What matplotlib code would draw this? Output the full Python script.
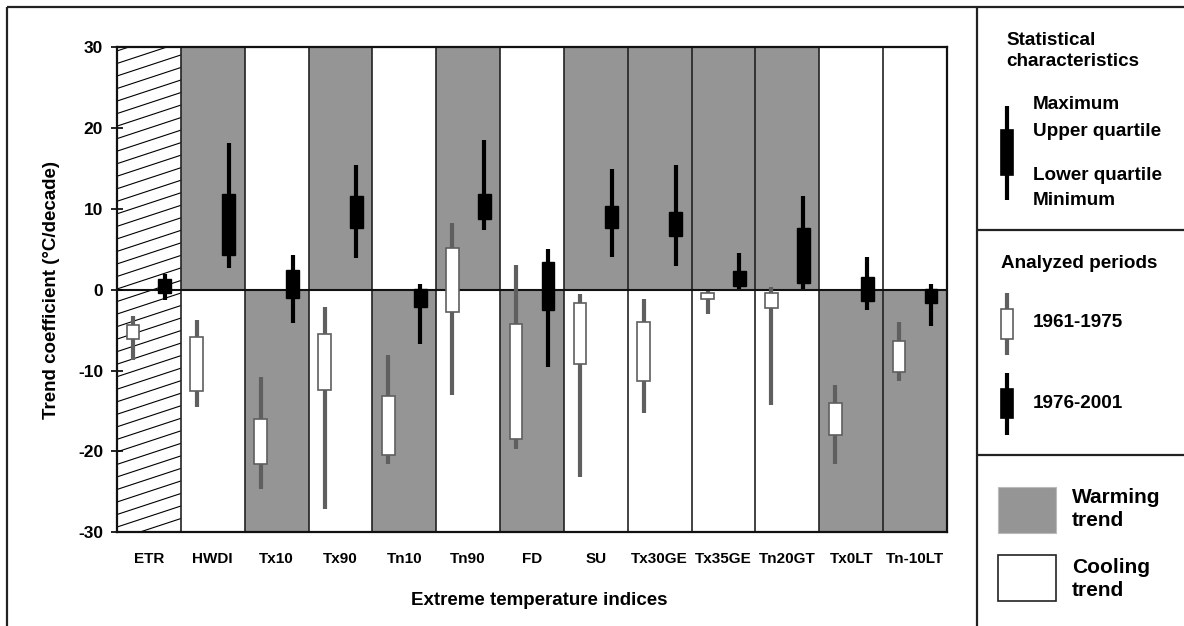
import numpy as np
import matplotlib
matplotlib.use('Agg')
import matplotlib.pyplot as plt
from matplotlib.patches import Rectangle

plt.rcParams['font.family'] = ['Liberation Sans', 'DejaVu Sans']
plt.rcParams['font.weight'] = 'bold'

indices = ['ETR', 'HWDI', 'Tx10', 'Tx90', 'Tn10', 'Tn90', 'FD', 'SU',
           'Tx30GE', 'Tx35GE', 'Tn20GT', 'Tx0LT', 'Tn-10LT']

# 1 = shaded above zero, -1 = shaded below zero, 0 = hatched (no sign)
warm_side = [0, 1, -1, 1, -1, 1, -1, 1, 1, 1, 1, -1, -1]

# 1961-1975
early_max = [-3.3, -3.7, -10.8, -2.1, -8.1, 8.3, 3.1, -0.5, -1.2, -0.1, 0.3, -11.8, -4.0]
early_q3 = [-4.3, -5.9, -16.0, -5.5, -13.1, 5.2, -4.2, -1.6, -4.0, -0.4, -0.4, -14.0, -6.3]
early_q1 = [-6.1, -12.5, -21.5, -12.4, -20.4, -2.8, -18.5, -9.2, -11.3, -1.2, -2.3, -18.0, -10.2]
early_min = [-8.7, -14.5, -24.6, -27.1, -21.5, -13.0, -19.7, -23.1, -15.3, -3.0, -14.3, -21.5, -11.3]

# 1976-2001
late_max = [1.9, 18.2, 4.3, 15.4, 0.7, 18.5, 5.1, 15.0, 15.4, 4.5, 11.6, 4.0, 0.7]
late_q3 = [1.3, 11.9, 2.5, 11.6, 0.1, 11.9, 3.4, 10.4, 9.6, 2.3, 7.6, 1.6, 0.1]
late_q1 = [-0.4, 4.25, -1.0, 7.6, -2.1, 8.7, -2.5, 7.7, 6.7, 0.5, 0.9, -1.4, -1.6]
late_min = [-1.3, 2.7, -4.1, 3.9, -6.7, 7.4, -9.5, 4.0, 2.9, 0.1, 0.1, -2.5, -4.5]

yticks = [30, 20, 10, 0, -10, -20, -30]

GRAY = '#959595'
WHISK = '#5f5f5f'
W, H = 1184, 626

fig = plt.figure(figsize=(W / 100, H / 100), dpi=100)

# frame and legend panel, drawn in pixel coordinates
frame = fig.add_axes([0, 0, 1, 1])
frame.set_xlim(0, W)
frame.set_ylim(H, 0)
frame.axis('off')
lk = dict(color='#222222', lw=1.6, solid_capstyle='butt')
frame.plot([7, W], [7, 7], **lk)
frame.plot([7, 7], [7, H], **lk)
frame.plot([977, 977], [7, H], **lk)
frame.plot([977, W], [230, 230], **lk)
frame.plot([977, W], [455, 455], **lk)

def glyph(x, y0, y1, b0, b1, face, edge, wcol):
    frame.plot([x, x], [y0, y1], color=wcol, lw=3, solid_capstyle='butt', zorder=2)
    frame.add_patch(Rectangle((x - 6, b0), 12, b1 - b0, facecolor=face,
                              edgecolor=edge, lw=1.2, zorder=3))

glyph(1007, 106, 200, 130, 175, 'black', 'black', 'black')
glyph(1007, 293, 355, 309, 339, 'white', WHISK, WHISK)
glyph(1007, 373, 435, 389, 418, 'black', 'black', 'black')

frame.add_patch(Rectangle((998, 487), 58, 46, facecolor=GRAY, edgecolor='#bbbbbb', lw=0.8))
frame.add_patch(Rectangle((998, 555), 58, 46, facecolor='white', edgecolor='#222222', lw=1.2))

tk = dict(fontsize=13.6, fontweight='bold', va='baseline', ha='left')
frame.text(1006, 45, 'Statistical', **tk)
frame.text(1006, 66, 'characteristics', **tk)
frame.text(1033, 109, 'Maximum', **tk)
frame.text(1033, 136, 'Upper quartile', **tk)
frame.text(1033, 180, 'Lower quartile', **tk)
frame.text(1033, 205, 'Minimum', **tk)
frame.text(1001, 268, 'Analyzed periods', **tk)
frame.text(1033, 327, '1961-1975', **tk)
frame.text(1033, 408, '1976-2001', **tk)
tk2 = dict(tk, fontsize=15)
frame.text(1072, 503, 'Warming', **tk2)
frame.text(1072, 526, 'trend', **tk2)
frame.text(1072, 573, 'Cooling', **tk2)
frame.text(1072, 596, 'trend', **tk2)

ax = fig.add_axes([117 / W, 1 - 532.3 / H, 830 / W, 485 / H])
n = len(indices)
x = np.arange(n)
ax.set_xlim(-0.5, n - 0.5)
ax.set_ylim(-30, 30)

# column backgrounds
for i, side in enumerate(warm_side):
    if side == 1:
        ax.axvspan(i - 0.5, i + 0.5, ymin=0.5, ymax=1, color=GRAY, lw=0, zorder=0)
    elif side == -1:
        ax.axvspan(i - 0.5, i + 0.5, ymin=0, ymax=0.5, color=GRAY, lw=0, zorder=0)
    else:
        clip = Rectangle((i - 0.5, -30), 1, 60, transform=ax.transData,
                         facecolor='none', edgecolor='none')
        ax.add_patch(clip)
        for c in np.arange(-34, 31, 1.55):
            ln, = ax.plot([i - 0.5, i + 0.5], [c, c + 2.6], color='black',
                          lw=0.8, zorder=0.5)
            ln.set_clip_path(clip)

for b in np.arange(0.5, n - 0.5):
    ax.axvline(b, color='#222222', lw=1.2, zorder=1)
ax.axhline(0, color='#111111', lw=1.5, zorder=1)

# 1961-1975 boxes
xe = x - 0.25
ax.vlines(xe, early_min, early_max, color=WHISK, lw=3, zorder=2)
ax.bar(xe, np.subtract(early_q3, early_q1), bottom=early_q1, width=0.2,
       color='white', edgecolor=WHISK, lw=1.2, zorder=3)

# 1976-2001 boxes
xl = x + 0.25
ax.vlines(xl, late_min, late_max, color='black', lw=3, zorder=2)
ax.bar(xl, np.subtract(late_q3, late_q1), bottom=late_q1, width=0.2,
       color='black', edgecolor='black', lw=1.0, zorder=3)

ax.set_yticks(yticks)
ax.set_yticklabels([str(t) for t in yticks], fontsize=12.5, fontweight='bold')
ax.set_xticks(x)
ax.set_xticklabels(indices, fontsize=11, fontweight='bold')
ax.tick_params(axis='y', direction='inout', length=8, width=1.2, pad=6)
ax.tick_params(axis='x', length=0, pad=14)
for s in ax.spines.values():
    s.set_linewidth(1.6)
    s.set_color('#111111')

ax.set_ylabel('Trend coefficient (°C/decade)', fontsize=13.5, fontweight='bold', labelpad=13)
fig.text(539 / W, 1 - 605 / H, 'Extreme temperature indices', fontsize=13.5,
         fontweight='bold', ha='center', va='baseline')

fig.savefig('out.png', dpi=100)
